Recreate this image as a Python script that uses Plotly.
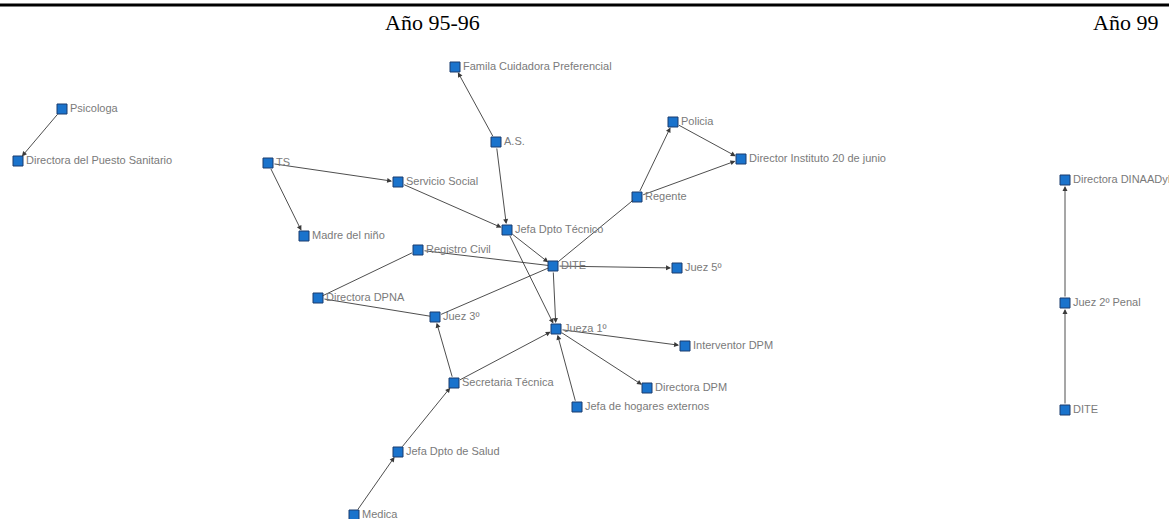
import plotly.graph_objects as go

# Node names and positions (pixel-like layout coordinates)
node_names = [
    "Psicologa", "Directora del Puesto Sanitario", "TS", "Madre del niño",
    "Servicio Social", "Famila Cuidadora Preferencial", "A.S.", "Jefa Dpto Técnico",
    "Registro Civil", "Directora DPNA", "DITE", "Juez 5º", "Juez 3º", "Jueza 1º",
    "Interventor DPM", "Secretaria Técnica", "Directora DPM", "Jefa de hogares externos",
    "Jefa Dpto de Salud", "Medica", "Policia", "Director Instituto 20 de junio",
    "Regente", "Directora DINAADyF", "Juez 2º Penal", "DITE (99)",
]
node_labels = [
    "Psicologa", "Directora del Puesto Sanitario", "TS", "Madre del niño",
    "Servicio Social", "Famila Cuidadora Preferencial", "A.S.", "Jefa Dpto Técnico",
    "Registro Civil", "Directora DPNA", "DITE", "Juez 5º", "Juez 3º", "Jueza 1º",
    "Interventor DPM", "Secretaria Técnica", "Directora DPM", "Jefa de hogares externos",
    "Jefa Dpto de Salud", "Medica", "Policia", "Director Instituto 20 de junio",
    "Regente", "Directora DINAADyF", "Juez 2º Penal", "DITE",
]
node_x = [62, 18, 268, 304, 398, 455, 496, 507, 418, 318, 553, 677, 435, 556,
          685, 454, 647, 577, 398, 354, 673, 741, 637, 1065, 1065, 1065]
node_y = [109, 161, 163, 236, 182, 67, 142, 230, 250, 298, 266, 268, 317, 329,
          346, 383, 388, 407, 452, 515, 122, 159, 197, 180, 303, 410]

# Directed edges (source -> target)
directed_edges = [
    ("Psicologa", "Directora del Puesto Sanitario"),
    ("TS", "Servicio Social"),
    ("TS", "Madre del niño"),
    ("Servicio Social", "Jefa Dpto Técnico"),
    ("A.S.", "Famila Cuidadora Preferencial"),
    ("A.S.", "Jefa Dpto Técnico"),
    ("Jefa Dpto Técnico", "DITE"),
    ("Jefa Dpto Técnico", "Jueza 1º"),
    ("Regente", "Policia"),
    ("Policia", "Director Instituto 20 de junio"),
    ("Regente", "Director Instituto 20 de junio"),
    ("DITE", "Juez 5º"),
    ("DITE", "Jueza 1º"),
    ("Jueza 1º", "Interventor DPM"),
    ("Jueza 1º", "Directora DPM"),
    ("Jefa de hogares externos", "Jueza 1º"),
    ("Secretaria Técnica", "Jueza 1º"),
    ("Secretaria Técnica", "Juez 3º"),
    ("Jefa Dpto de Salud", "Secretaria Técnica"),
    ("Medica", "Jefa Dpto de Salud"),
    ("DITE (99)", "Juez 2º Penal"),
    ("Juez 2º Penal", "Directora DINAADyF"),
]
# Undirected edges
plain_edges = [
    ("DITE", "Regente"),
    ("Registro Civil", "DITE"),
    ("Registro Civil", "Directora DPNA"),
    ("Directora DPNA", "Juez 3º"),
    ("Juez 3º", "DITE"),
]

period_labels = ["Año 95-96", "Año 99"]
period_x = [432, 1125]

W, H = 1169, 519
pos = {n: (x, y) for n, x, y in zip(node_names, node_x, node_y)}

fig = go.Figure()

annotations = []
edge_color = "#3a3a3a"
for s, t in directed_edges:
    (sx, sy), (tx, ty) = pos[s], pos[t]
    annotations.append(dict(
        x=tx, y=ty, ax=sx, ay=sy, xref="x", yref="y", axref="x", ayref="y",
        text="", showarrow=True, arrowhead=2, arrowsize=1.1, arrowwidth=0.9,
        arrowcolor=edge_color, standoff=6, startstandoff=5,
    ))
for s, t in plain_edges:
    (sx, sy), (tx, ty) = pos[s], pos[t]
    annotations.append(dict(
        x=tx, y=ty, ax=sx, ay=sy, xref="x", yref="y", axref="x", ayref="y",
        text="", showarrow=True, arrowhead=0, arrowwidth=0.9,
        arrowcolor=edge_color, standoff=5, startstandoff=5,
    ))

# Node labels
for lab, x, y in zip(node_labels, node_x, node_y):
    annotations.append(dict(
        x=x + 6, y=y - 1, xref="x", yref="y", text=lab, showarrow=False,
        xanchor="left", yanchor="middle",
        font=dict(family="Liberation Sans", size=11, color="#7a7a7a"),
    ))

# Period headers
for lab, x in zip(period_labels, period_x):
    annotations.append(dict(
        x=x, y=22, xref="x", yref="y", text=lab, showarrow=False,
        xanchor="center", yanchor="middle",
        font=dict(family="Liberation Serif", size=22, color="#000000"),
    ))

fig.add_trace(go.Scatter(
    x=node_x, y=node_y, mode="markers",
    marker=dict(symbol="square", size=10, color="#1a73cc",
                line=dict(color="#1b3d6e", width=1)),
    hoverinfo="text", hovertext=node_labels, cliponaxis=False,
))

fig.update_layout(
    width=W, height=H,
    margin=dict(l=0, r=0, t=0, b=0),
    paper_bgcolor="white", plot_bgcolor="white",
    showlegend=False,
    xaxis=dict(range=[0, W], visible=False, fixedrange=True),
    yaxis=dict(range=[H, 0], visible=False, fixedrange=True),
    annotations=annotations,
    shapes=[dict(type="line", xref="x", yref="y", x0=0, x1=W, y0=5, y1=5,
                 line=dict(color="black", width=3))],
)

fig.write_html(
    "out.html",
    config={"displayModeBar": False},
    post_script="document.body.style.margin='0';document.body.style.overflow='hidden';",
)
